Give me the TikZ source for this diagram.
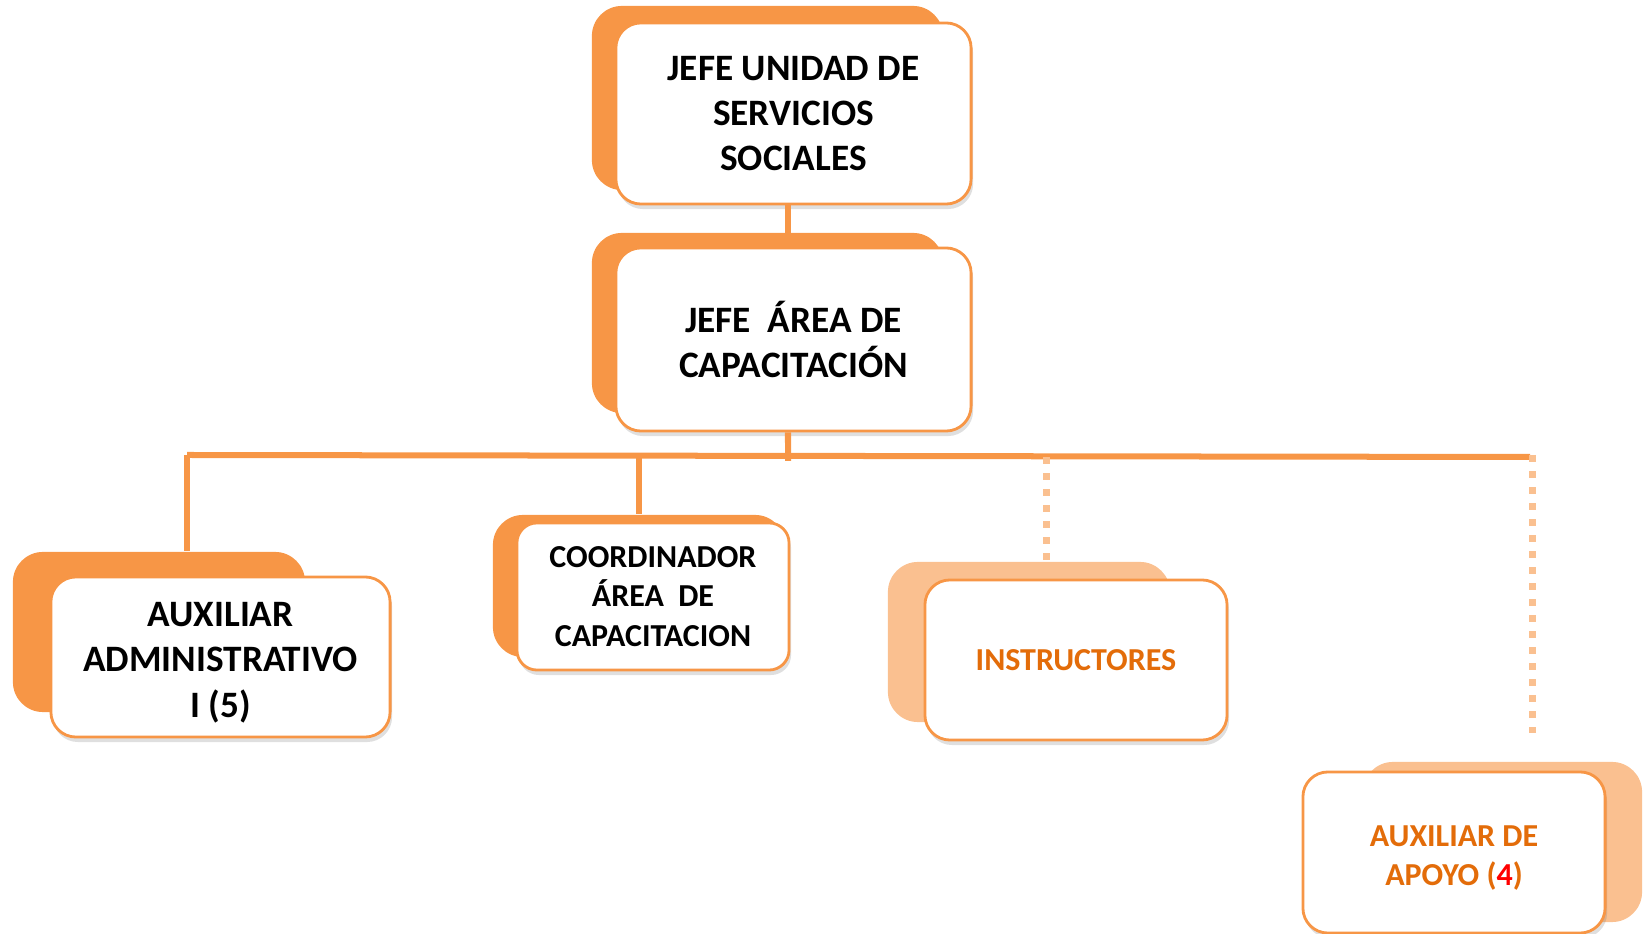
\documentclass[tikz,border=0pt]{standalone}
\usepackage{fontspec}
\setmainfont{Carlito}
\usetikzlibrary{shadows}
\definecolor{naranja}{HTML}{F79646}
\definecolor{naranjaclaro}{HTML}{FAC090}
\definecolor{naranjatexto}{HTML}{E36C09}
\begin{document}
\begin{tikzpicture}[x=0.01cm,y=-0.01cm,
  fondo/.style={rounded corners=0.3cm,inner sep=0pt},
  cargo/.style={draw=naranja,line width=0.8pt,fill=white,rounded corners=0.25cm,align=center,inner sep=0pt,
    drop shadow={shadow xshift=0.02cm,shadow yshift=-0.05cm,opacity=0.25}},
  grande/.style={font=\fontsize{10.6}{12.9}\selectfont\bfseries},
  chico/.style={font=\fontsize{9.1}{11.2}\selectfont\bfseries},
  linea/.style={naranja,line width=0.06cm},
  punteado/.style={naranjaclaro,line width=0.07cm,dash pattern=on 0.07cm off 0.09cm}]
\useasboundingbox(0,0)rectangle(1644,934);
% sombras de color detras de cada cargo
\node[fondo,fill=naranja,minimum width=3.51cm,minimum height=1.84cm](jefeb)at(767.5,98){};
\node[fondo,fill=naranja,minimum width=3.51cm,minimum height=1.80cm](areab)at(767.5,323){};
\node[fondo,fill=naranja,minimum width=2.92cm,minimum height=1.60cm](auxb)at(159,632){};
\node[fondo,fill=naranja,minimum width=2.92cm,minimum height=1.42cm](coordb)at(639,586){};
\node[fondo,fill=naranjaclaro,minimum width=2.82cm,minimum height=1.60cm](instb)at(1029,642){};
\node[fondo,fill=naranjaclaro,minimum width=2.79cm,minimum height=1.60cm](apoyob)at(1502.5,842){};
% lineas
\coordinate(busL)at(187,455);
\coordinate(busR)at(1530,457);
\coordinate(busM)at(788,461);
\coordinate(dotI)at(1046,457);
\coordinate(dotA)at(1532,455);
\draw[linea](busL)--(busR);
\draw[linea](busL)--(busL|-auxb.north);
\draw[linea](coordb.north|-busL)--(coordb.north);
\draw[punteado](dotI)--(dotI|-instb.north);
\draw[punteado](dotA)--++(0,278);
% cargos
\node[cargo,grande,minimum width=3.55cm,minimum height=1.81cm](jefe)at(793.5,113.5){JEFE UNIDAD DE\\SERVICIOS\\SOCIALES};
\node[cargo,grande,minimum width=3.55cm,minimum height=1.83cm](area)at(793.5,339.5){JEFE~~ÁREA DE\\CAPACITACIÓN};
\node[cargo,grande,minimum width=3.39cm,minimum height=1.60cm](aux)at(220.5,657){\rule{0pt}{10pt}AUXILIAR\\ADMINISTRATIVO\\I (5)};
\node[cargo,chico,rounded corners=0.2cm,minimum width=2.72cm,minimum height=1.47cm](coord)at(653,596.5){COORDINADOR\\ÁREA~~DE\\CAPACITACION};
\node[cargo,chico,text=naranjatexto,minimum width=3.02cm,minimum height=1.60cm](inst)at(1076,660){INSTRUCTORES};
\node[cargo,chico,text=naranjatexto,minimum width=3.02cm,minimum height=1.61cm](apoyo)at(1454,852.5){\rule{0pt}{9pt}AUXILIAR DE\\APOYO ({\color{red}4})};
\draw[linea]([xshift=-0.055cm]jefe.south)--([xshift=-0.055cm]area.north);
\draw[linea]([xshift=-0.055cm]area.south)--(busM);
\end{tikzpicture}
\end{document}
